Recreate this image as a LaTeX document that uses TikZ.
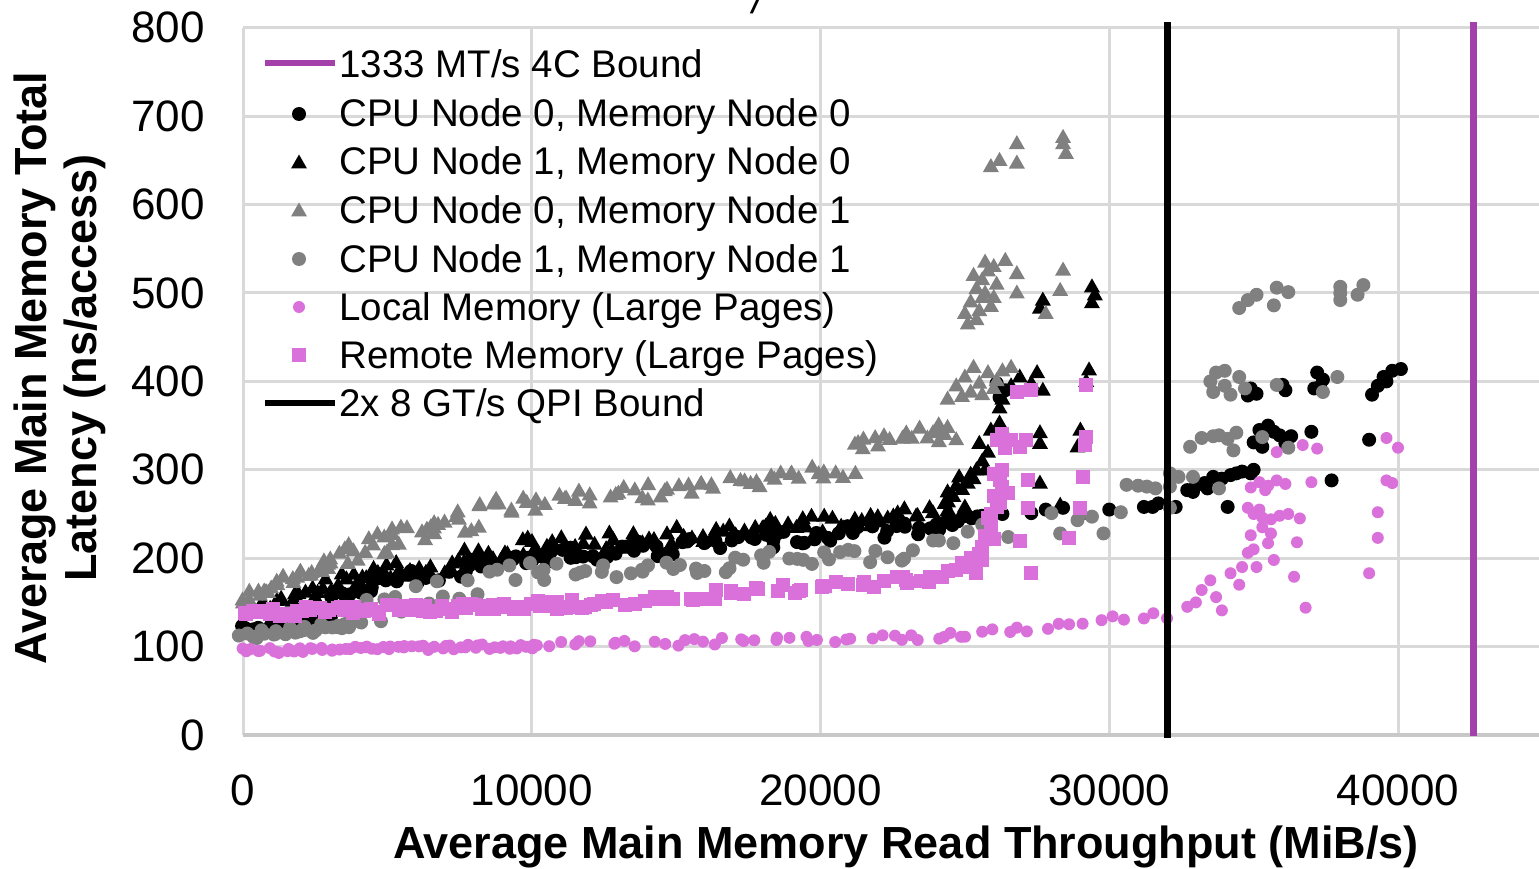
\documentclass[tikz,border=0pt]{standalone}
\usepackage{fontspec}
\setmainfont{Liberation Sans}

\definecolor{gridgray}{RGB}{217,217,217}
\definecolor{axisgray}{RGB}{200,200,200}
\definecolor{ptgray}{RGB}{128,128,128}
\definecolor{ptpink}{RGB}{218,112,218}
\definecolor{boundpurple}{RGB}{163,64,170}

\tikzset{
  mkblack/.style={fill=black},
  mkgray/.style={fill=ptgray},
  mkpink/.style={fill=ptpink},
  gridline/.style={draw=gridgray, line width=3pt},
  axisline/.style={draw=axisgray, line width=3.5pt},
  boundline/.style={line width=7pt},
  ticklabel/.style={font=\fontsize{44}{50}\selectfont, inner sep=0pt},
  legtext/.style={font=\fontsize{38.5}{44}\selectfont, anchor=base west, inner sep=0pt},
  axtitle/.style={font=\bfseries\fontsize{45}{50}\selectfont, inner sep=0pt, align=center},
}

% marker shapes, drawn at a point given in the current coordinate system
\newcommand\mkBlackDot[2]{\path[mkblack] (#1,#2) circle[radius=7pt];}
\newcommand\mkGrayDot[2]{\path[mkgray] (#1,#2) circle[radius=7pt];}
\newcommand\mkPinkDot[2]{\path[mkpink] (#1,#2) circle[radius=6pt];}
\newcommand\mkBlackTri[2]{\path[mkblack] (#1,#2) ++(0pt,8.5pt) -- ++(-8pt,-14pt) -- ++(16pt,0pt) -- cycle;}
\newcommand\mkGrayTri[2]{\path[mkgray] (#1,#2) ++(0pt,8.5pt) -- ++(-8pt,-14pt) -- ++(16pt,0pt) -- cycle;}
\newcommand\mkPinkSq[2]{\path[mkpink] (#1,#2) ++(-7pt,-7pt) rectangle ++(14pt,14pt);}

% a band of jittered samples: marker, x0, x1, y0, y1, steps, x jitter, y jitter
\newcommand\scatterband[8]{%
  \foreach \k in {0,...,#6}{%
    \pgfmathsetmacro\sbx{#2+(#3-#2)*\k/#6+#7*rand}%
    \pgfmathsetmacro\sby{#4+(#5-#4)*\k/#6+#8*rand}%
    #1{\sbx}{\sby}}}
% an explicit list of samples x/y
\newcommand\scatterlist[2]{\foreach \pa/\pb in {#2}{#1{\pa}{\pb}}}

\begin{document}
\begin{tikzpicture}[x=1pt,y=-1pt]
\useasboundingbox (0,0) rectangle (1539,869);

% remnant of the heading above the chart
\node[font=\itshape\fontsize{40}{44}\selectfont, anchor=base, inner sep=0pt] (headcut) at (758,14) {/};

\begin{scope}[shift={(243,735)}, x=28.875pt, y=0.884pt]
  \pgfmathsetseed{4}
  % grid
  \foreach \v in {100,200,...,800} \draw[gridline] (0,\v) -- (45,\v);
  \foreach \u in {10,20,30,40} \draw[gridline] (\u,0) -- (\u,800);
  \draw[gridline] (0,0) -- (0,800);
  \draw[axisline] (0,0) -- (45,0);

  % tick labels
  \foreach \v in {0,100,...,800}
    \node[ticklabel, anchor=east, xshift=-38pt] at (0,\v) {\v};
  \foreach \u/\t in {0/0,10/10000,20/20000,30/30000,40/40000}
    \node[ticklabel, yshift=-55pt] at (\u,0) {\t};

  % 1333 MT/s 4C bound
  \draw[boundline, boundpurple] (42.6,-1) -- (42.6,806);

  % CPU Node 0, Memory Node 0
  \scatterband{\mkBlackDot}{0}{3}{120}{135}{14}{0.15}{4}
  \scatterband{\mkBlackDot}{3}{10}{165}{200}{32}{0.2}{10}
  \scatterband{\mkBlackDot}{10}{24}{200}{236}{60}{0.2}{9}
  \scatterband{\mkBlackDot}{24}{25.5}{238}{246}{6}{0.1}{4}
  \scatterlist{\mkBlackDot}{27.3/251, 27.8/255, 28.4/257, 30/255, 31.2/258, 31.5/258, 31.7/262, 32.3/258, 34.1/258, 26.3/250, 25.6/248,
    32.7/277, 32.9/275, 33.0/282, 33.3/285, 33.4/279, 33.6/292, 33.9/290, 34.2/294, 34.4/296, 34.6/298, 34.9/296, 35.0/300, 37.7/288,
    35.0/331, 35.2/345, 35.5/350, 35.7/343, 35.9/339, 36.1/330, 36.3/338, 35.3/326, 37.0/343, 39.0/334,
    34.8/384, 34.9/392, 35.1/386, 36.0/396, 36.1/390, 37.1/392, 37.2/410, 37.3/394, 37.4/402, 39.1/385, 39.3/395, 39.5/405, 39.6/400, 39.8/412, 40.1/414,
    26.1/398, 26.2/382, 26.4/390}

  % CPU Node 1, Memory Node 0
  \scatterband{\mkBlackTri}{0.5}{3}{140}{168}{16}{0.15}{6}
  \scatterband{\mkBlackTri}{3}{10}{172}{212}{42}{0.2}{12}
  \scatterband{\mkBlackTri}{10}{22}{212}{245}{60}{0.2}{10}
  \scatterband{\mkBlackTri}{22}{24.5}{245}{258}{10}{0.15}{6}
  \scatterlist{\mkBlackTri}{24.3/262, 24.6/270, 24.9/278, 25.1/285, 25.3/290, 24.5/250, 25.0/258, 25.4/300, 24.8/292, 25.6/310, 25.8/320,
    24.7/282, 25.2/295, 24.4/275, 25.7/300,
    25.5/330, 25.9/345, 26.2/353, 26.4/340, 27.6/342, 27.6/330, 27.6/285, 28.9/326, 29.0/345, 29.1/335,
    26.3/380, 26.6/395, 26.9/405, 27.3/398, 27.5/410, 27.7/390, 29.3/413, 29.2/400, 26.2/370,
    27.6/483, 27.7/492, 29.4/507, 29.4/489, 29.5/498, 28.3/260, 29.1/250}

  % CPU Node 0, Memory Node 1
  \scatterband{\mkGrayTri}{0}{3}{155}{195}{26}{0.15}{6}
  \scatterband{\mkGrayTri}{3}{8}{200}{245}{35}{0.25}{14}
  \scatterband{\mkGrayTri}{8}{21}{255}{298}{55}{0.25}{10}
  \scatterband{\mkGrayTri}{21}{24}{326}{345}{14}{0.2}{6}
  \scatterlist{\mkGrayTri}{23.7/336, 24.0/345, 24.3/340, 24.7/334, 24.4/348, 24.1/332,
    24.4/380, 24.7/395, 25.0/405, 25.2/388, 25.5/398, 25.8/410, 25.3/416, 26.6/416, 24.9/383, 25.6/385, 26.0/392, 26.1/401, 26.3/412,
    25.0/477, 25.2/490, 25.4/505, 25.6/515, 25.8/525, 26.0/530, 25.3/520, 25.7/500, 25.9/485, 26.1/510, 26.4/537, 25.5/480,
    26.8/522, 26.8/500, 28.4/526, 28.3/503, 27.8/477, 26.0/495, 25.7/535, 25.1/465, 25.4/470, 25.6/495,
    25.9/643, 26.2/650, 26.8/669, 26.8/647, 28.4/676, 28.5/658, 28.4/669}

  % CPU Node 1, Memory Node 1
  \scatterband{\mkGrayDot}{0}{4}{112}{125}{26}{0.15}{5}
  \scatterband{\mkGrayDot}{3.5}{10}{135}{185}{18}{0.25}{15}
  \scatterband{\mkGrayDot}{10}{23}{183}{205}{40}{0.25}{10}
  \scatterlist{\mkGrayDot}{23.2/209, 23.9/220, 24.1/220, 24.6/217, 25.1/230, 25.6/238, 26.5/224, 28.0/251, 28.3/228, 28.9/243, 29.4/247, 29.8/228, 30.4/252, 29.0/250,
    30.6/283, 31.0/282, 31.3/281, 31.6/279, 32.1/296, 32.4/292, 32.9/292, 32.1/281, 32.1/257, 33.8/279,
    32.8/326, 33.2/336, 33.6/338, 33.8/339, 34.1/335, 34.4/342, 34.3/322, 35.3/337, 36.2/325,
    33.5/400, 33.7/410, 34.0/395, 34.2/385, 34.5/405, 34.7/392, 33.6/388, 34.0/412, 35.8/396, 37.4/388, 37.9/405,
    34.5/483, 34.8/492, 35.1/498, 35.7/486, 35.8/506, 36.2/501, 38.0/507, 38.0/492, 38.6/498, 38.8/509, 38.0/500}

  % Local Memory (Large Pages)
  \scatterband{\mkPinkDot}{0}{10}{95}{101}{60}{0.1}{3}
  \scatterband{\mkPinkDot}{10}{25}{101}{112}{40}{0.25}{4}
  \scatterband{\mkPinkDot}{25}{31.5}{113}{135}{14}{0.2}{4}
  \scatterlist{\mkPinkDot}{32/132, 32.7/145, 33.0/150, 33.2/164, 33.7/156, 33.9/141, 33.5/175, 34.2/183, 34.5/170, 34.6/190, 34.8/206, 35.0/210, 35.1/190,
    35.5/217, 35.6/228, 35.7/198, 34.9/226, 35.3/235, 34.8/257, 35.0/250, 35.3/246, 35.6/244, 35.9/248, 36.2/250, 35.2/255,
    34.9/280, 35.2/286, 35.5/282, 35.8/288, 36.1/284, 35.4/277, 36.6/245, 36.5/218, 36.4/179, 36.8/144,
    37.0/286, 36.7/328, 37.2/324, 35.8/320, 39.6/336, 40.0/325, 39.6/288, 39.8/285, 39.3/252, 39.3/223, 39.0/183}

  % Remote Memory (Large Pages)
  \scatterband{\mkPinkSq}{0}{12}{138}{148}{70}{0.1}{5}
  \scatterband{\mkPinkSq}{12}{24}{148}{178}{40}{0.25}{5}
  \scatterlist{\mkPinkSq}{24.2/179, 24.4/185, 24.7/187, 25.0/190, 25.4/183, 24.9/195, 25.2/200, 25.5/205, 25.6/213, 25.9/235, 25.8/245,
    25.3/192, 25.6/198, 25.7/225, 26.0/222, 25.9/250, 26.2/262, 26.3/280, 26.0/295,
    26.1/258, 26.0/270, 26.2/288, 26.5/274, 26.3/300, 26.1/334, 26.6/334, 27.1/334, 26.4/325, 26.9/326, 26.3/340, 26.8/388, 27.3/390,
    26.9/220, 27.2/257, 27.2/288, 27.3/183, 28.6/223, 29.0/257, 29.1/292, 29.2/337, 29.15/328, 29.2/396, 23.0/172}

  % 2x 8 GT/s QPI bound
  \draw[boundline, black] (32,-3) -- (32,806);
\end{scope}

% legend
\draw[boundpurple, line width=6pt] (265,63) -- (335,63);
\node[legtext] (lg1) at (339,78) {1333 MT/s 4C Bound};
\mkBlackDot{299}{114}
\node[legtext] (lg2) at (339,127) {CPU Node 0, Memory Node 0};
\mkBlackTri{299}{163}
\node[legtext] (lg3) at (339,175) {CPU Node 1, Memory Node 0};
\mkGrayTri{299}{211}
\node[legtext] (lg4) at (339,223) {CPU Node 0, Memory Node 1};
\mkGrayDot{299}{259}
\node[legtext] (lg5) at (339,272) {CPU Node 1, Memory Node 1};
\mkPinkDot{299}{307}
\node[legtext] (lg6) at (339,320) {Local Memory (Large Pages)};
\mkPinkSq{299}{355}
\node[legtext] (lg7) at (339,368) {Remote Memory (Large Pages)};
\draw[black, line width=6pt] (265,403) -- (335,403);
\node[legtext] (lg8) at (339,416) {2x 8 GT/s QPI Bound};

% axis titles
\node[axtitle, rotate=90] (ytitle) at (60,368) {Average Main Memory Total\\Latency (ns/access)};
\node[axtitle, anchor=base] (xtitle) at (906,858) {Average Main Memory Read Throughput (MiB/s)};
\end{tikzpicture}
\end{document}
